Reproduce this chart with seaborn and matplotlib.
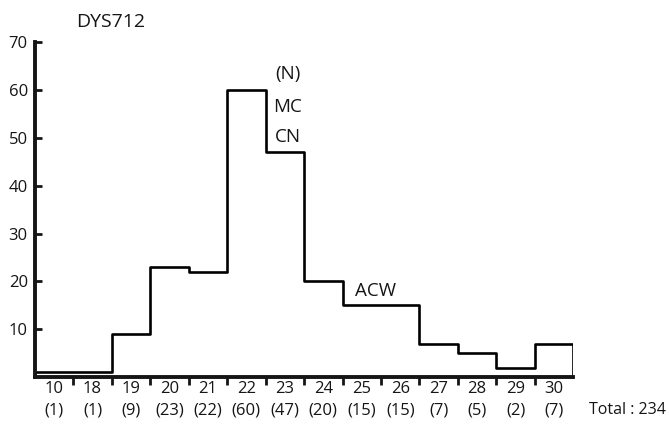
import numpy as np
import pandas as pd
import matplotlib
matplotlib.use("Agg")
import matplotlib.pyplot as plt
import seaborn as sns

# DYS712 allele repeats and their observed counts
alleles = ["10", "18", "19", "20", "21", "22", "23", "24", "25", "26", "27", "28", "29", "30"]
counts = [1, 1, 9, 23, 22, 60, 47, 20, 15, 15, 7, 5, 2, 7]
y_ticks = [10, 20, 30, 40, 50, 60, 70]
total = sum(counts)

sns.set_theme(style="ticks")
plt.rcParams["font.family"] = ["Open Sans", "DejaVu Sans"]
ink = "#151515"

n_bins = len(alleles)
df = pd.DataFrame({"pos": np.arange(n_bins), "n": counts})

fig = plt.figure(figsize=(6.69, 4.30), dpi=100)
ax = fig.add_axes([0.052, 0.123, 0.805, 0.779])

sns.histplot(data=df, x="pos", weights="n", discrete=True,
             element="step", fill=True, color="black", alpha=1, ax=ax)
# outline-only step histogram
for coll in ax.collections:
    coll.set_facecolor("none")
    coll.set_edgecolor("black")
    coll.set_linewidth(1.9)

ax.set_xlim(-0.5, n_bins - 0.5)
ax.set_ylim(0, 70)
ax.set_xlabel("")
ax.set_ylabel("")

for side in ["top", "right"]:
    ax.spines[side].set_visible(False)
for side in ["left", "bottom"]:
    ax.spines[side].set_linewidth(2.8)
    ax.spines[side].set_color(ink)

# y axis: inward ticks, no label at zero
ax.set_yticks(y_ticks)
ax.set_yticklabels([str(v) for v in y_ticks])
ax.tick_params(axis="y", direction="in", length=5, width=2, pad=5,
               labelsize=12, colors=ink)

# x axis: tick marks at bin edges, labels centred on bins
ax.set_xticks(np.arange(n_bins - 1) + 0.5)
ax.set_xticklabels([])
ax.tick_params(axis="x", which="major", direction="out", length=6, width=2,
               colors=ink)
ax.set_xticks(np.arange(n_bins), minor=True)
ax.set_xticklabels([f"{a}\n({c})" for a, c in zip(alleles, counts)], minor=True,
                   linespacing=1.45)
ax.tick_params(axis="x", which="minor", length=0, pad=3, labelsize=12,
               labelcolor=ink)

ax.text(6.08, 63.4, "(N)", ha="center", va="center", fontsize=13.5, color=ink)
ax.text(6.08, 56.4, "MC", ha="center", va="center", fontsize=13.5, color=ink)
ax.text(6.08, 50.2, "CN", ha="center", va="center", fontsize=13.5, color=ink)
ax.text(8.35, 18.0, "ACW", ha="center", va="center", fontsize=13.5, color=ink)

fig.text(0.165, 0.948, "DYS712", ha="center", va="center", fontsize=14,
         color=ink)
fig.text(0.881, 0.046, f"Total : {total}", ha="left", va="center", fontsize=11.5,
         color=ink)

fig.savefig("out.png", dpi=100)
